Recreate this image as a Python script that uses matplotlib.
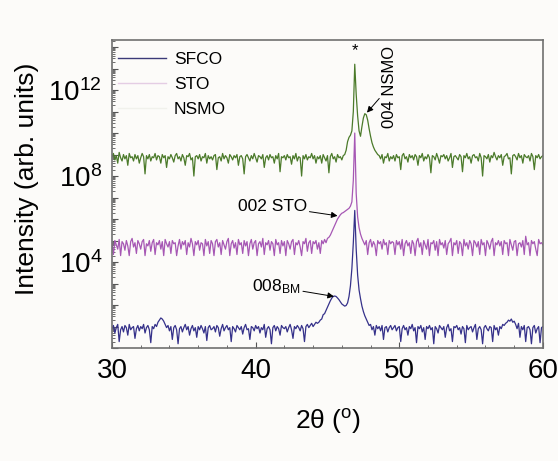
import numpy as np
import matplotlib
matplotlib.use("Agg")
import matplotlib.pyplot as plt
from matplotlib.lines import Line2D
from matplotlib.ticker import LogLocator, FuncFormatter, MultipleLocator, NullFormatter

plt.rcParams['font.family'] = ['Liberation Sans', 'DejaVu Sans']

# 2theta sampling, 0.1 deg steps
two_theta = np.linspace(30.0, 60.0, 301)

# log10(intensity) (curves already offset)
sfco_log = [
    # 30.0 - 44.3
    0.9, 1.05, 0.7, 0.95, 1.1, 0.3, 0.85, 1.0, 0.75, 1.05,
    0.95, 0.6, 1.1, 0.85, 0.95, 1.0, 0.45, 0.9, 1.05, 0.8,
    1.0, 0.9, 1.1, 0.7, 0.95, 1.05, 0.85, 0.25, 1.0, 0.9,
    1.1, 1.0, 1.2, 1.3, 1.4, 1.35, 1.25, 1.1, 0.95, 1.05,
    0.8, 1.0, 0.4, 0.95, 1.05, 0.85, 0.2, 0.9, 1.0, 0.75,
    0.95, 1.1, 0.85, 1.0, 0.6, 0.9, 1.05, 0.8, 0.95, 0.5,
    1.0, 0.85, 1.05, 0.9, 0.7, 1.0, 0.35, 0.95, 1.05, 0.85,
    0.9, 1.0, 0.75, 1.05, 0.95, 0.55, 0.9, 1.1, 0.8, 0.95,
    1.05, 0.85, 0.95, 0.3, 1.0, 0.9, 0.75, 1.05, 0.95, 0.85,
    1.0, 0.65, 0.95, 1.1, 0.85, 0.9, 0.4, 1.0, 0.95, 0.8,
    1.05, 0.9, 1.0, 0.7, 0.95, 0.85, 1.1, 0.5, 0.9, 1.0,
    0.85, 0.2, 0.95, 1.05, 0.8, 1.0, 0.9, 0.6, 1.05, 0.95,
    0.9, 1.0, 0.75, 0.95, 1.1, 0.85, 0.45, 1.0, 0.9, 1.05,
    0.95, 0.8, 1.05, 0.9, 0.3, 1.0, 1.1, 0.95, 1.05, 1.15,
    1.0, 1.1, 1.2, 1.15,
    # 44.4 - 49.5
    1.2, 1.3, 1.35, 1.55, 1.6, 1.75, 1.9, 2.05, 2.2, 2.32,
    2.4, 2.42, 2.4, 2.33, 2.25, 2.15, 2.05, 2.0, 1.95, 1.98,
    2.1, 2.4, 2.9, 3.7, 4.9, 6.4, 4.6, 3.4, 2.7, 2.3,
    1.95, 1.7, 1.5, 1.35, 1.2, 1.05, 1.1, 0.85, 1.0, 0.6,
    1.05, 0.9, 1.0, 0.8, 1.05, 0.4, 0.95, 1.0, 0.75, 0.95,
    1.05, 0.85,
    # 49.6 - 60.0
    0.95, 1.05, 0.8, 0.95,
    1.0, 0.3, 0.9, 1.05, 0.85, 0.95, 0.6, 1.0, 0.9, 1.1,
    0.8, 0.95, 0.25, 1.0, 0.9, 1.05, 0.75, 0.95, 0.4, 1.0,
    0.9, 1.05, 0.85, 0.95, 0.2, 1.0, 0.9, 0.7, 1.05, 0.95,
    0.85, 1.0, 0.5, 0.95, 1.1, 0.8, 0.9, 0.3, 1.0, 0.95,
    1.05, 0.85, 0.95, 0.65, 1.0, 0.9, 0.25, 1.05, 0.85, 0.95,
    1.0, 0.75, 0.95, 1.1, 0.4, 0.9, 1.0, 0.85, 0.2, 0.95,
    1.05, 0.9, 0.8, 1.0, 0.95, 0.3, 1.05, 0.85, 0.95, 0.6,
    1.0, 0.9, 1.1, 1.05, 1.15, 1.2, 1.3, 1.25, 1.35, 1.2,
    1.25, 1.1, 0.9, 1.15, 0.5, 1.0, 0.85, 1.05, 0.3, 0.95,
    1.0, 0.85, 0.2, 0.95, 1.05, 0.7, 0.9, 1.0, 0.25, 0.95,
    1.0]

sto_log = [
    # 30.0 - 44.3
    4.9, 4.35, 5.0, 4.8, 4.6, 5.05, 4.3, 4.95, 4.85, 4.55,
    5.0, 4.75, 4.3, 4.95, 5.1, 4.7, 4.9, 4.4, 5.0, 4.85,
    4.6, 4.95, 5.05, 4.3, 4.85, 4.75, 5.0, 4.5, 4.9, 5.05,
    4.35, 4.9, 4.8, 5.0, 4.6, 4.95, 4.3, 5.05, 4.85, 4.7,
    4.95, 4.4, 5.0, 4.85, 4.9, 4.3, 4.75, 5.05, 4.6, 4.95,
    4.8, 5.0, 4.35, 4.9, 4.7, 5.1, 4.85, 4.3, 4.95, 4.8,
    5.0, 4.55, 4.9, 4.85, 4.3, 5.05, 4.75, 4.95, 4.4, 5.0,
    4.85, 4.3, 4.95, 5.05, 4.7, 4.9, 4.35, 5.0, 4.8, 4.6,
    4.95, 5.1, 4.3, 4.85, 5.0, 4.65, 4.9, 4.35, 5.05, 4.8,
    4.9, 4.4, 5.0, 4.75, 4.95, 4.3, 4.85, 5.05, 4.6, 4.9,
    5.0, 4.3, 4.85, 4.95, 4.7, 5.1, 4.35, 4.9, 4.8, 5.0,
    4.55, 4.95, 4.85, 4.3, 5.05, 4.8, 4.9, 4.4, 5.0, 4.75,
    4.95, 4.3, 5.0, 4.85, 4.6, 4.95, 5.05, 4.35, 4.9, 4.8,
    5.0, 4.7, 4.3, 4.95, 4.85, 5.1, 4.5, 4.9, 5.0, 4.4,
    4.95, 4.85, 5.0, 4.6,
    # 44.4 - 49.5
    4.9, 4.4, 5.0, 4.85, 5.05, 4.9, 5.1, 5.15, 5.25, 5.4,
    5.55, 5.7, 5.85, 6.0, 6.1, 6.2, 6.27, 6.3, 6.35, 6.4,
    6.45, 6.5, 6.6, 6.8, 7.8, 10.0, 7.2, 6.1, 5.6, 5.3,
    5.1, 4.95, 4.8, 5.0, 4.35, 4.9, 5.05, 4.7, 4.95, 4.8,
    4.3, 5.0, 4.85, 4.95, 4.6, 5.05, 4.8, 4.9, 4.35, 5.0,
    4.85, 4.95,
    # 49.6 - 60.0
    4.9, 4.35, 5.0, 4.8,
    4.95, 4.6, 5.05, 4.3, 4.85, 5.0, 4.75, 4.9, 4.4, 5.0,
    4.85, 4.3, 4.95, 5.1, 4.7, 4.9, 4.35, 5.0, 4.8, 4.6,
    5.05, 4.3, 4.9, 4.85, 5.0, 4.55, 4.95, 4.3, 5.05, 4.8,
    4.9, 4.65, 5.0, 4.35, 4.85, 4.95, 5.1, 4.3, 4.9, 4.8,
    5.0, 4.4, 4.95, 4.85, 4.3, 5.05, 4.75, 4.9, 4.6, 5.0,
    4.85, 4.3, 5.0, 4.9, 4.7, 4.95, 4.35, 5.05, 4.8, 4.9,
    4.3, 5.0, 4.85, 4.6, 4.95, 5.1, 4.3, 4.9, 4.8, 5.0,
    4.75, 4.95, 4.35, 5.0, 4.85, 4.9, 4.3, 5.05, 4.8, 4.55,
    4.95, 5.0, 4.3, 4.85, 4.9, 4.7, 5.0, 4.35, 5.2, 4.8,
    4.9, 4.3, 5.0, 4.85, 4.95, 4.6, 4.3, 5.05, 4.85, 4.9,
    4.8]

nsmo_log = [
    # 30.0 - 44.3
    8.9, 9.05, 8.75, 8.95, 8.6, 9.1, 8.85, 8.7, 9.0, 8.8,
    8.95, 8.5, 9.05, 8.85, 8.9, 8.7, 9.0, 8.8, 8.95, 8.6,
    8.85, 9.05, 8.9, 8.1, 8.95, 8.8, 9.0, 8.7, 8.9, 8.85,
    9.05, 8.75, 8.95, 8.9, 8.6, 9.0, 8.85, 8.95, 8.4, 8.9,
    8.8, 9.0, 8.85, 8.65, 8.95, 9.05, 8.8, 8.9, 8.7, 9.0,
    8.85, 8.5, 8.95, 8.9, 9.05, 8.75, 8.85, 8.0, 8.9, 8.95,
    8.8, 9.0, 8.7, 8.9, 8.85, 9.05, 8.6, 8.95, 8.8, 8.9,
    8.75, 8.95, 9.0, 8.3, 8.85, 8.9, 8.7, 9.05, 8.8, 8.95,
    8.85, 8.6, 9.0, 8.9, 8.75, 8.95, 8.85, 9.0, 8.5, 8.9,
    8.95, 8.8, 8.1, 8.9, 9.0, 8.85, 8.7, 8.95, 8.8, 9.05,
    8.85, 8.65, 8.95, 8.9, 8.8, 9.0, 8.4, 8.85, 8.95, 8.75,
    9.0, 8.85, 8.9, 8.6, 8.95, 8.8, 9.05, 8.2, 8.9, 8.85,
    8.95, 8.75, 9.0, 8.85, 8.9, 8.55, 8.95, 8.8, 9.05, 8.7,
    8.9, 8.85, 8.0, 8.95, 8.8, 9.0, 8.75, 8.9, 8.85, 9.05,
    8.8, 8.95, 8.6, 8.9,
    # 44.4 - 49.5
    8.8, 8.95, 8.6, 9.0, 8.85, 8.7, 8.95, 8.15, 8.9, 9.05,
    8.8, 8.9, 8.65, 9.0, 8.85, 8.9, 8.75, 8.95, 9.0, 9.2,
    9.6, 9.8, 9.9, 10.1, 11.0, 13.2, 11.8, 10.8, 10.1, 9.85,
    10.3, 10.7, 10.9, 10.85, 10.6, 10.2, 9.85, 9.55, 9.35, 9.2,
    9.1, 9.0, 8.95, 8.8, 9.0, 8.6, 8.9, 8.85, 9.05, 8.7,
    8.9, 8.8,
    # 49.6 - 60.0
    8.95, 8.7, 9.0, 8.85,
    8.9, 8.3, 8.95, 9.05, 8.8, 8.9, 8.65, 9.0, 8.85, 8.95,
    8.75, 9.0, 8.9, 8.5, 8.95, 8.85, 9.05, 8.7, 8.9, 8.8,
    9.0, 8.85, 8.15, 8.95, 8.9, 8.75, 9.05, 8.85, 8.6, 8.95,
    8.9, 9.0, 8.8, 8.95, 8.7, 8.85, 9.05, 8.4, 8.9, 8.95,
    8.85, 8.75, 9.0, 8.9, 8.2, 8.95, 8.85, 9.05, 8.8, 8.9,
    8.6, 8.95, 9.0, 8.85, 8.9, 8.7, 9.05, 8.85, 8.0, 8.95,
    8.9, 8.8, 9.0, 8.65, 8.95, 8.85, 9.1, 8.9, 8.75, 8.95,
    8.85, 9.0, 8.5, 8.9, 8.95, 9.05, 8.8, 8.85, 8.1, 8.95,
    9.0, 8.9, 8.75, 9.05, 8.85, 8.95, 8.6, 9.0, 8.9, 8.85,
    8.95, 8.7, 9.05, 8.9, 8.3, 8.95, 8.85, 9.0, 8.8, 8.9,
    8.95]

labels = ['SFCO', 'STO', 'NSMO']
line_colors = ['#35318a', '#a657b4', '#4b7a2a']
legend_colors = ['#3b3a78', '#e4cde4', '#f1f1ec']

bg = '#fcfbf9'
fig = plt.figure(figsize=(5.58, 4.61), dpi=100, facecolor=bg)
ax = fig.add_axes([0.2007, 0.245, 0.7723, 0.668], facecolor=bg)

for vals, c in zip([sfco_log, sto_log, nsmo_log], line_colors):
    ax.plot(two_theta, 10 ** np.array(vals), color=c, lw=0.9)

ax.set_yscale('log')
ax.set_xlim(30, 60)
ax.set_ylim(1, 2.1e14)

ax.xaxis.set_major_locator(MultipleLocator(10))
ax.xaxis.set_minor_locator(MultipleLocator(2))
ax.yaxis.set_major_locator(LogLocator(base=10, numticks=30))
ax.yaxis.set_minor_locator(LogLocator(base=10, subs=np.arange(2, 10), numticks=30))
ax.yaxis.set_minor_formatter(NullFormatter())


def fmt_y(v, pos):
    e = int(round(np.log10(v)))
    if e in (4, 8, 12):
        return r'$\mathregular{10^{%d}}$' % e
    return ''


ax.yaxis.set_major_formatter(FuncFormatter(fmt_y))

ax.tick_params(which='both', direction='in', top=False, right=False,
               colors='#555555', labelcolor='black', labelsize=20)
ax.tick_params(which='major', length=4.5, width=0.8, pad=7)
ax.tick_params(which='minor', length=2.5, width=0.6)
for s in ax.spines.values():
    s.set_color('#707070')
    s.set_linewidth(1.2)

ax.set_xlabel(r'2θ ($\mathregular{^o}$)', fontsize=19)
ax.set_ylabel('Intensity (arb. units)', fontsize=19)
ax.xaxis.set_label_coords(0.5, -0.19)
ax.yaxis.set_label_coords(-0.17, 0.55)

handles = [Line2D([], [], color=c, lw=1.0) for c in legend_colors]
ax.legend(handles, labels, loc='upper left', bbox_to_anchor=(0.005, 0.972),
          frameon=False, fontsize=12.5, handlelength=2.8, handletextpad=0.45,
          labelspacing=0.55, borderaxespad=0, borderpad=0.2)

arrow = dict(arrowstyle='-|>', color='black', lw=0.7, mutation_scale=9,
             shrinkA=0, shrinkB=0)
ax.annotate('002 STO', xy=(45.7, 10 ** 6.15), xytext=(43.55, 10 ** 6.6),
            fontsize=12.5, ha='right', va='center', arrowprops=arrow)
ax.annotate(r'008$\mathregular{_{BM}}$', xy=(45.45, 10 ** 2.4), xytext=(43.1, 10 ** 2.85),
            fontsize=12.5, ha='right', va='center', arrowprops=arrow)
ax.annotate('004 NSMO', xy=(47.75, 10 ** 10.95), xytext=(48.8, 10 ** 10.25),
            fontsize=12, rotation=90, ha='left', va='bottom', arrowprops=arrow)
ax.text(46.95, 10 ** 13.85, '*', fontsize=12, ha='center', va='center')

fig.savefig('out.png', dpi=100, facecolor=bg)
